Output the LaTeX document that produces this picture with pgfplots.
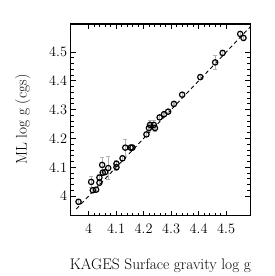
\documentclass[border=0pt]{standalone}
\usepackage{pgfplots}
\pgfplotsset{compat=1.18}
\begin{document}
\begin{tikzpicture}
\begin{axis}[
  scale only axis,
  width=181bp, height=193bp,
  xmin=3.934, xmax=4.588, ymin=3.932, ymax=4.598,
  xtick={4,4.1,4.2,4.3,4.4,4.5},
  ytick={4,4.1,4.2,4.3,4.4,4.5},
  xticklabels={4,4.1,4.2,4.3,4.4,4.5},
  yticklabels={4,4.1,4.2,4.3,4.4,4.5},
  minor tick num=4,
  tick align=inside,
  ticks=both,
  xtick pos=both, ytick pos=both,
  major tick length=5bp, minor tick length=3bp,
  tick style={line width=0.9pt, black},
  axis line style={line width=1.4pt},
  tick label style={font=\fontsize{14.5}{17}\selectfont},
  label style={font=\fontsize{15.5}{18}\selectfont},
  xticklabel style={yshift=-5bp},
  xlabel={KAGES Surface gravity log g},
  ylabel={ML log g (cgs)},
  xlabel style={yshift=-18bp},
  ylabel style={yshift=12bp},
  clip=true,
]
\addplot[black, dashed, line width=0.9pt, dash pattern=on 4pt off 3pt] coordinates {(3.955,3.955) (4.595,4.595)};
\addplot[only marks, mark=o, mark size=2.7bp, mark options={black, line width=1.2pt},
  error bars/.cd, y dir=both, y explicit, error bar style={gray!60, line width=1.3pt}, error mark options={gray!60, line width=1pt, rotate=90, mark size=2bp}]
 table[x=x, y=y, y error=e] {
x y e
4.551 4.563 0.008
4.563 4.549 0.008
4.487 4.497 0.008
4.460 4.464 0.025
4.406 4.413 0.008
4.340 4.352 0.008
4.310 4.320 0.008
4.289 4.293 0.008
4.274 4.284 0.008
4.258 4.273 0.008
4.237 4.247 0.015
4.223 4.247 0.015
4.219 4.236 0.012
4.241 4.236 0.012
4.210 4.214 0.008
4.159 4.168 0.010
4.153 4.168 0.010
4.133 4.168 0.030
4.123 4.131 0.008
4.101 4.112 0.010
4.101 4.100 0.010
4.071 4.097 0.040
4.060 4.083 0.010
4.051 4.081 0.010
4.049 4.108 0.025
4.039 4.064 0.010
4.039 4.046 0.010
4.009 4.049 0.020
4.027 4.022 0.008
4.015 4.020 0.008
3.963 3.980 0.008
};
\end{axis}
\path (current axis.south west) +(-71bp,-59bp) (current axis.north east) +(24bp,24bp);
\end{tikzpicture}
\end{document}
